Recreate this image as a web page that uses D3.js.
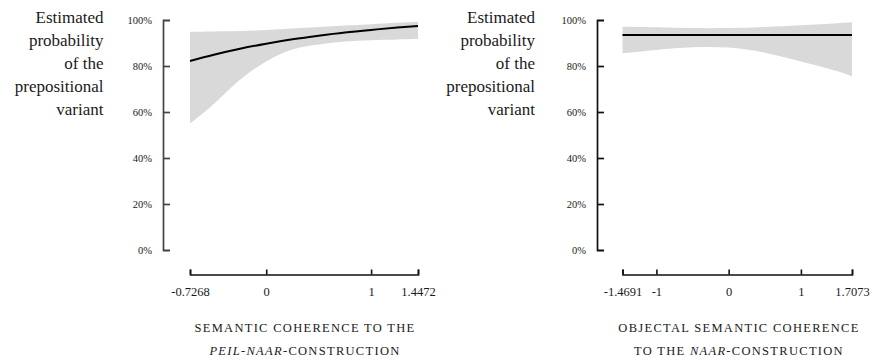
<!DOCTYPE html>
<html>
<head>
<meta charset="utf-8">
<script src="https://cdn.jsdelivr.net/npm/d3@7"></script>
<style>
  html, body { margin: 0; padding: 0; background: #fff; }
  svg { display: block; }
  text { font-family: "Liberation Serif", "DejaVu Serif", serif; fill: #1a1a1a; }
</style>
</head>
<body>
<svg id="chart" width="874" height="357"></svg>
<script>
// Probability axis shared by both panels
const yTicks = [0, 0.2, 0.4, 0.6, 0.8, 1];
const yTitleLines = ["Estimated", "probability", "of the", "prepositional", "variant"];

// Panel 1: semantic coherence to the peil-naar-construction
const leftX     = [-0.7268, -0.5, -0.25, 0, 0.25, 0.5, 0.75, 1, 1.25, 1.4472];
const leftFit   = [0.822, 0.849, 0.875, 0.897, 0.916, 0.932, 0.946, 0.957, 0.967, 0.974];
const leftLower = [0.550, 0.635, 0.740, 0.820, 0.872, 0.894, 0.906, 0.912, 0.915, 0.917];
const leftUpper = [0.949, 0.950, 0.952, 0.956, 0.963, 0.970, 0.976, 0.982, 0.988, 0.992];
const leftXTicks = [-0.7268, 0, 1, 1.4472];

// Panel 2: objectal semantic coherence to the naar-construction
const rightX     = [-1.4691, -1, -0.5, 0, 0.5, 1, 1.5, 1.7073];
const rightFit   = [0.935, 0.935, 0.935, 0.935, 0.935, 0.935, 0.935, 0.935];
const rightLower = [0.855, 0.870, 0.881, 0.880, 0.858, 0.820, 0.778, 0.754];
const rightUpper = [0.971, 0.968, 0.965, 0.965, 0.970, 0.977, 0.986, 0.990];
const rightXTicks = [-1.4691, -1, 0, 1, 1.7073];

const svg = d3.select("#chart");

const y = d3.scaleLinear().domain([0, 1]).range([250, 20]);

function panel(opts) {
  const g = svg.append("g");
  const x = d3.scaleLinear().domain(d3.extent(opts.xs)).range(opts.xRange);
  const rows = opts.xs.map((v, i) => ({ x: v, fit: opts.fit[i], lo: opts.lower[i], hi: opts.upper[i] }));

  // confidence band
  g.append("path")
    .datum(rows)
    .attr("fill", "#d9d9d9")
    .attr("d", d3.area().curve(d3.curveNatural)
      .x(d => x(d.x)).y0(d => y(d.lo)).y1(d => y(d.hi)));

  // fitted probability
  g.append("path")
    .datum(rows)
    .attr("fill", "none")
    .attr("stroke", "#000")
    .attr("stroke-width", 2)
    .attr("d", d3.line().curve(d3.curveNatural)
      .x(d => x(d.x)).y(d => y(d.fit)));

  // y axis: ticks point inwards, bracket at both ends
  const ya = g.append("g")
    .attr("transform", `translate(${opts.yAxisX},0)`)
    .call(d3.axisLeft(y).tickValues(yTicks)
      .tickFormat(d => Math.round(d * 100) + "%")
      .tickSize(-7).tickSizeOuter(-7).tickPadding(11));
  ya.select(".domain").attr("stroke", opts.yAxisColor).attr("stroke-width", 1.7);
  ya.selectAll(".tick line").attr("stroke", opts.yAxisColor).attr("stroke-width", 1.7);
  ya.selectAll(".tick text").style("font-family", "Liberation Serif").style("font-size", "10.5px").attr("fill", "#1a1a1a");

  // x axis, detached below the plot
  const xa = g.append("g")
    .attr("transform", "translate(0,274.5)")
    .call(d3.axisBottom(x).tickValues(opts.xTicks)
      .tickFormat(d => String(d))
      .tickSize(-5).tickSizeOuter(-5).tickPadding(13));
  xa.select(".domain").attr("stroke", "#111").attr("stroke-width", 1.6);
  xa.selectAll(".tick line").attr("stroke", "#111").attr("stroke-width", 1.6);
  xa.selectAll(".tick text").style("font-family", "Liberation Serif").style("font-size", "12.5px").attr("fill", "#1a1a1a");

  // y title
  const yt = g.append("text")
    .attr("text-anchor", "end")
    .style("font-size", "17px");
  yTitleLines.forEach((line, i) => {
    yt.append("tspan").attr("x", opts.yTitleX).attr("y", 22.7 + i * 23.1).text(line);
  });

  // x title in spaced capitals, with italic construction names
  opts.xTitle.forEach((parts, i) => {
    const t = g.append("text")
      .attr("x", opts.xTitleX)
      .attr("y", 332.3 + i * 22.7)
      .attr("text-anchor", "middle")
      .style("font-size", "12.5px")
      .style("letter-spacing", "1.3px");
    parts.forEach(p => {
      t.append("tspan").style("font-style", p.italic ? "italic" : "normal").text(p.text);
    });
  });
}

panel({
  xs: leftX, fit: leftFit, lower: leftLower, upper: leftUpper,
  xRange: [190, 418], xTicks: leftXTicks,
  yAxisX: 163, yAxisColor: "#444", yTitleX: 103.5, xTitleX: 305,
  xTitle: [
    [{ text: "SEMANTIC COHERENCE TO THE" }],
    [{ text: "PEIL-NAAR", italic: true }, { text: "-CONSTRUCTION" }]
  ]
});

panel({
  xs: rightX, fit: rightFit, lower: rightLower, upper: rightUpper,
  xRange: [622.5, 852], xTicks: rightXTicks,
  yAxisX: 597, yAxisColor: "#111", yTitleX: 535, xTitleX: 739,
  xTitle: [
    [{ text: "OBJECTAL SEMANTIC COHERENCE" }],
    [{ text: "TO THE " }, { text: "NAAR", italic: true }, { text: "-CONSTRUCTION" }]
  ]
});
</script>
</body>
</html>
